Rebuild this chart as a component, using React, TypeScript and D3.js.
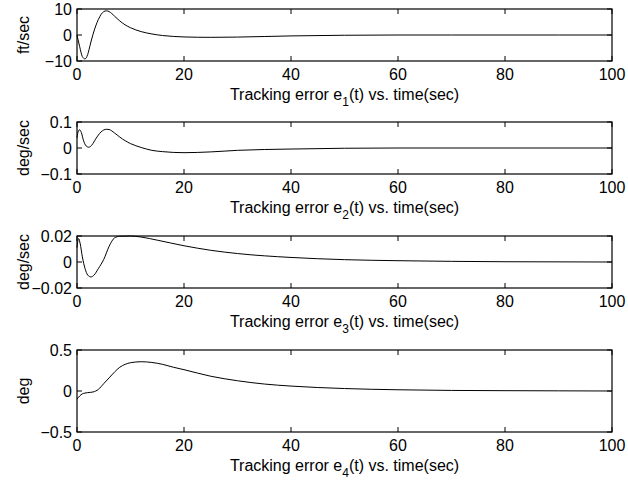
import React from "react";
import * as d3 from "d3";

const xTicks = [0, 20, 40, 60, 80, 100];

const t1 = [0, 0.5, 1, 1.5, 2, 2.5, 3, 4, 5, 5.5, 6, 7, 8, 9, 10, 12, 14, 16, 18, 20, 25, 30, 40, 50, 60, 70, 80, 90, 100];
const e1 = [0, -4.5, -8.3, -9.2, -7.5, -3.5, 0.3, 6, 9, 9.3, 9, 7.3, 5.4, 3.9, 2.8, 1.3, 0.4, -0.2, -0.55, -0.75, -0.9, -0.8, -0.35, -0.1, 0, 0, 0, 0, 0];

const t2 = [0, 0.25, 0.5, 0.8, 1.2, 1.7, 2.2, 2.8, 3.5, 4.5, 5.5, 6, 7, 8, 9, 10, 12, 14, 16, 18, 20, 25, 30, 40, 50, 60, 80, 100];
const e2 = [0.04, 0.065, 0.07, 0.06, 0.03, 0.008, 0.003, 0.012, 0.035, 0.062, 0.072, 0.071, 0.058, 0.042, 0.028, 0.017, 0.002, -0.009, -0.014, -0.017, -0.018, -0.015, -0.009, -0.004, -0.001, 0, 0, 0];

const t3 = [0, 0.3, 0.6, 1, 1.5, 2, 2.6, 3.2, 4, 5, 6, 7, 8, 10, 12, 15, 20, 25, 30, 40, 50, 60, 70, 80, 100];
const e3 = [0.011, 0.018, 0.014, 0.004, -0.005, -0.01, -0.0115, -0.01, -0.005, 0.002, 0.012, 0.0185, 0.0198, 0.02, 0.0192, 0.0168, 0.0125, 0.009, 0.0065, 0.0035, 0.0018, 0.001, 0.0005, 0.0002, 0];

const t4 = [0, 0.5, 1, 1.5, 2, 3, 4, 5, 6, 7, 8, 9, 10, 12, 14, 16, 18, 20, 25, 30, 35, 40, 50, 60, 70, 80, 90, 100];
const e4 = [-0.1, -0.06, -0.035, -0.025, -0.02, -0.012, 0.02, 0.09, 0.16, 0.23, 0.29, 0.325, 0.345, 0.357, 0.348, 0.325, 0.29, 0.26, 0.18, 0.125, 0.085, 0.06, 0.03, 0.015, 0.007, 0.004, 0.002, 0];

const yTicks1 = [-10, 0, 10];
const yTicks2 = [-0.1, 0, 0.1];
const yTicks3 = [-0.02, 0, 0.02];
const yTicks4 = [-0.5, 0, 0.5];

const yLabels = ["ft/sec", "deg/sec", "deg/sec", "deg"];
const subs = ["1", "2", "3", "4"];

const panels = [
  { t: t1, e: e1, ticks: yTicks1, top: 9, bottom: 61 },
  { t: t2, e: e2, ticks: yTicks2, top: 122, bottom: 174 },
  { t: t3, e: e3, ticks: yTicks3, top: 236, bottom: 288 },
  { t: t4, e: e4, ticks: yTicks4, top: 350, bottom: 432 },
];

const fmt = (v: number) => (v < 0 ? "\u2212" + String(-v) : String(v));

export default function App() {
  const x = d3.scaleLinear().domain([0, 100]).range([77, 612]);
  const font = "'Liberation Sans', Arial, Helvetica, sans-serif";
  const tl = 5;
  const fs = 16;
  return (
    <svg width={628} height={481} style={{ position: "absolute", left: 0, top: 0, background: "#fff" }} fontFamily={font}>
      <rect x={0} y={0} width={628} height={481} fill="#fff" />
      {panels.map((p, i) => {
        const y = d3.scaleLinear().domain([p.ticks[0], p.ticks[2]]).range([p.bottom, p.top]);
        const line = d3
          .line<number>()
          .x((_, k) => x(p.t[k]))
          .y((d) => y(d))
          .curve(d3.curveMonotoneX);
        const cy = (p.top + p.bottom) / 2;
        return (
          <g key={i}>
            <path d={line(p.e) || ""} fill="none" stroke="#000" strokeWidth={1} />
            <rect x={77} y={p.top} width={535} height={p.bottom - p.top} fill="none" stroke="#000" strokeWidth={1.2} />
            {xTicks.map((v) => (
              <g key={v}>
                <line x1={x(v)} x2={x(v)} y1={p.bottom} y2={p.bottom - tl} stroke="#000" />
                <line x1={x(v)} x2={x(v)} y1={p.top} y2={p.top + tl} stroke="#000" />
                <text x={x(v)} y={p.bottom + 19} fontSize={fs} textAnchor="middle">{v}</text>
              </g>
            ))}
            {p.ticks.map((v) => (
              <g key={v}>
                <line x1={77} x2={77 + tl} y1={y(v)} y2={y(v)} stroke="#000" />
                <line x1={612} x2={612 - tl} y1={y(v)} y2={y(v)} stroke="#000" />
                <text x={72} y={y(v) + 5.5} fontSize={fs} textAnchor="end">{fmt(v)}</text>
              </g>
            ))}
            <text transform={`translate(29,${cy}) rotate(-90)`} fontSize={fs} textAnchor="middle">{yLabels[i]}</text>
            <text x={344.5} y={p.bottom + 39} fontSize={fs} textAnchor="middle">
              Tracking error e<tspan dy={6} fontSize={12}>{subs[i]}</tspan><tspan dy={-6}>(t) vs. time(sec)</tspan>
            </text>
          </g>
        );
      })}
    </svg>
  );
}
